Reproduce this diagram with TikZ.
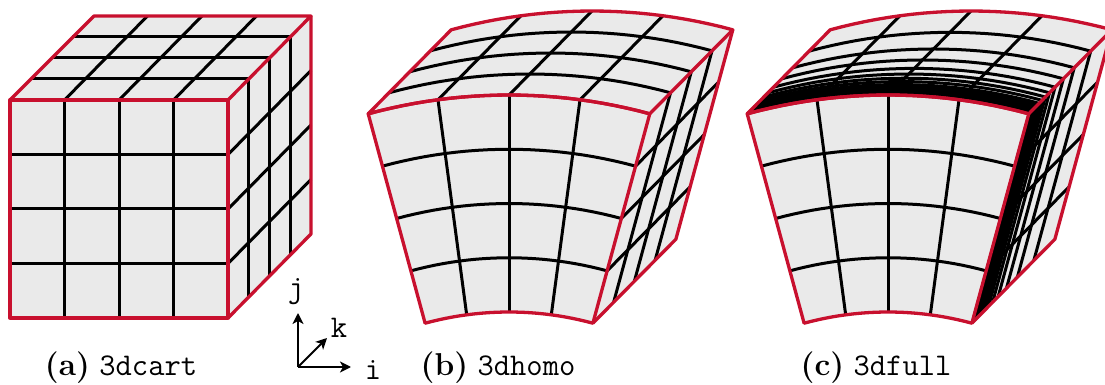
\documentclass[tikz,border=0pt]{standalone}
\usepackage{fontspec}
\usetikzlibrary{arrows.meta}
\definecolor{fancred}{HTML}{C8102E}
\definecolor{fanfill}{HTML}{EAEAEA}
\tikzset{
  x=0.5pt,y=-0.5pt,
  gridline/.style={black,line width=1.5pt},
  edgeline/.style={fancred,line width=1.65pt,line join=round},
  axisline/.style={black,line width=0.9pt,-{Stealth[length=5.5pt,width=5.5pt,inset=1.5pt]}},
  caption/.style={inner sep=0pt,anchor=base,font=\fontsize{15.8}{16}\selectfont},
  axlabel/.style={inner sep=0pt,font=\fontsize{15.8}{16}\selectfont\ttfamily}
}
\def\fanparse#1/#2/#3\relax{%
  \pgfmathsetmacro\fx{\cx+sin(#1)*#2+83*#3}%
  \pgfmathsetmacro\fy{632-cos(#1)*#2-84*#3}%
  \pgfpointxy{\fx}{\fy}}
\tikzdeclarecoordinatesystem{fan}{\fanparse#1\relax}
\newcommand{\drawfan}[2]{% centre x, list of depth fractions
  \def\cx{#1}
  % faces
  \fill[fanfill] plot[domain=-15.2:15.2,samples=25] (fan cs:\x/537/0) -- plot[domain=15.2:-15.2,samples=25] (fan cs:\x/537/1) -- cycle;
  \fill[fanfill] plot[domain=-15.2:15.2,samples=25] (fan cs:\x/320/0) -- plot[domain=15.2:-15.2,samples=25] (fan cs:\x/537/0) -- cycle;
  \fill[fanfill] (fan cs:15.2/537/0) -- (fan cs:15.2/537/1) -- (fan cs:15.2/320/1) -- (fan cs:15.2/320/0) -- cycle;
  % front grid
  \foreach \r in {374.25,428.5,482.75}{\draw[gridline] plot[domain=-15.2:15.2,samples=25] (fan cs:\x/\r/0);}
  \foreach \a in {-7.6,0,7.6}{\draw[gridline] (fan cs:\a/320/0) -- (fan cs:\a/537/0);
    \draw[gridline] (fan cs:\a/537/0) -- (fan cs:\a/537/1);}
  % right face cross lines
  \foreach \r in {374.25,428.5,482.75}{\draw[gridline] (fan cs:15.2/\r/0) -- (fan cs:15.2/\r/1);}
  % depth layers
  \foreach \t in {#2}{
    \draw[gridline] plot[domain=-15.2:15.2,samples=25] (fan cs:\x/537/\t);
    \draw[gridline] (fan cs:15.2/537/\t) -- (fan cs:15.2/320/\t);
  }
  % outline
  \draw[edgeline] plot[domain=-15.2:15.2,samples=25] (fan cs:\x/320/0) -- plot[domain=15.2:-15.2,samples=25] (fan cs:\x/537/0) -- cycle;
  \draw[edgeline] plot[domain=-15.2:15.2,samples=25] (fan cs:\x/537/0) -- plot[domain=15.2:-15.2,samples=25] (fan cs:\x/537/1) -- cycle;
  \draw[edgeline] (fan cs:15.2/537/1) -- (fan cs:15.2/320/1) -- (fan cs:15.2/320/0);
}
\begin{document}
\begin{tikzpicture}
\useasboundingbox (0,0) rectangle (1105,385);
% (a) cube
\fill[fanfill] (10,100) -- (228,100) -- (228,318) -- (10,318) -- cycle;
\fill[fanfill] (10,100) -- (94,16) -- (311,16) -- (228,100) -- cycle;
\fill[fanfill] (228,100) -- (311,16) -- (311,234) -- (228,318) -- cycle;
\foreach \i in {1,2,3}{
  \pgfmathsetmacro{\p}{54.5*\i}
  \pgfmathsetmacro{\q}{\i/4}
  \draw[gridline] ({10+\p},100) -- ({10+\p},318);
  \draw[gridline] (10,{100+\p}) -- (228,{100+\p});
  \draw[gridline] ({10+\p},100) -- ({93+\p},16);
  \draw[gridline] (228,{100+\p}) -- (311,{16+\p});
  \draw[gridline] ({10+83*\q},{100-84*\q}) -- ({228+83*\q},{100-84*\q});
  \draw[gridline] ({228+83*\q},{100-84*\q}) -- ({228+83*\q},{318-84*\q});
}
\draw[edgeline] (10,100) -- (228,100) -- (228,318) -- (10,318) -- cycle;
\draw[edgeline] (10,100) -- (94,16) -- (311,16) -- (228,100);
\draw[edgeline] (311,16) -- (311,234) -- (228,318);
% (b), (c)
\drawfan{509}{.25,.5,.75}
\drawfan{888}{.746,.548,.417,.317,.25,.2,.16,.125,.1,.08,.062,.048,.036,.026,.018,.012,.006}
% axes
\coordinate (o) at (298,367);
\coordinate (jt) at (298,313);
\coordinate (it) at (351,367);
\coordinate (kt) at (327,338);
\draw[axisline] (o) -- (jt);
\draw[axisline] (o) -- (it);
\draw[axisline] (o) -- (kt);
\node[axlabel] (jl) at (296,292) {j};
\node[axlabel] (kl) at (339,328) {k};
\node[axlabel] (il) at (373,370) {i};
% captions
\node[caption] (ca) at (121,375) {\textbf{(a)} \texttt{3dcart}};
\node[caption] (cb) at (498,375) {\textbf{(b)} \texttt{3dhomo}};
\node[caption] (cc) at (876,375) {\textbf{(c)} \texttt{3dfull}};
\end{tikzpicture}
\end{document}
